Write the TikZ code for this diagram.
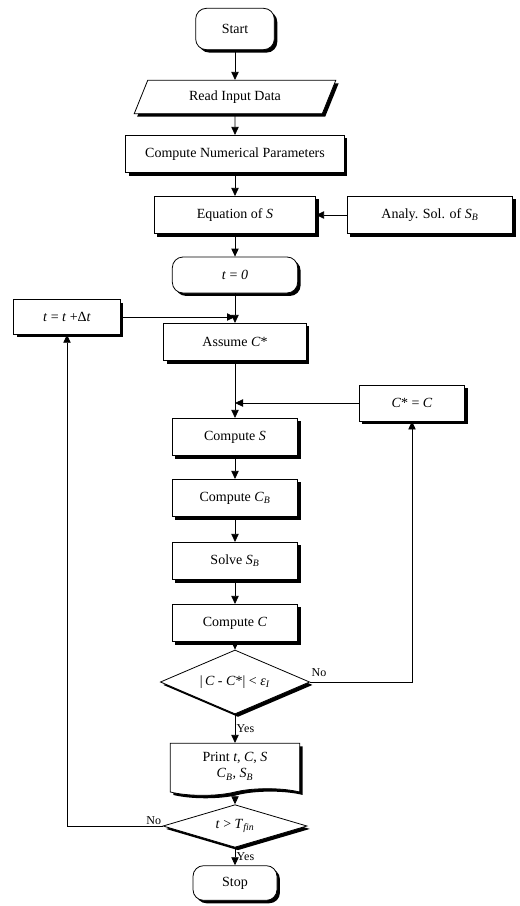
\documentclass[tikz,border=0pt]{standalone}
\usepackage{fontspec}
\setmainfont{Liberation Serif}
\usetikzlibrary{shapes, arrows, arrows.meta, shadows}

\begin{document}
\begin{tikzpicture}[x=0.75pt,y=0.75pt,yscale=-1,xscale=1,
    >={Triangle[length=6pt,width=5.5pt]},
    font=\fontsize{10.5}{12.5}\selectfont,
    box/.style={draw, line width=0.6pt, fill=white, minimum height=28pt, inner sep=2pt,
        general shadow={fill=black, shadow xshift=2.2pt, shadow yshift=-2.2pt}},
    term/.style={box, rounded corners=8pt},
    io/.style={box, trapezium, trapezium left angle=68, trapezium right angle=112, inner xsep=1pt},
    test/.style={box, diamond, inner sep=0pt, aspect=2.6},
    doc/.style={box, tape, tape bend top=none},
    lbl/.style={font=\fontsize{9}{11}\selectfont, inner sep=1pt},
    flow/.style={->, line width=0.6pt}]
    \useasboundingbox (0,0) rectangle (519,906);

    % Main column
    \node [term, minimum width=59pt, minimum height=31pt] (start) at (235,29) {Start};
    \node [io, minimum height=25pt] (read) at (235,97) {Read Input Data};
    \node [box, minimum width=164pt] (param) at (235,154) {Compute Numerical Parameters};
    \node [box, minimum width=121pt] (eqn) at (235,215) {Equation of \textit{S}};
    \node [box, minimum width=124pt] (analy) at (430,215) {Analy. Sol. of \textit{S}\textsubscript{\textit{B}}};
    \node [term, minimum width=94pt, minimum height=27pt] (tzero) at (235,275) {\textit{t} = \textit{0}};
    \node [box, minimum width=80pt, minimum height=26pt] (tplus) at (67,317) {\textit{t} = \textit{t} +Δ\textit{t}};
    \node [box, minimum width=107pt] (assume) at (235,342) {Assume \textit{C}*};
    \node [box, minimum width=79pt, minimum height=27pt] (cstar) at (412,403) {\textit{C}* = \textit{C}};
    \node [box, minimum width=94pt] (compS) at (235,437) {Compute \textit{S}};
    \node [box, minimum width=94pt] (compCB) at (235,498) {Compute \textit{C}\textsubscript{\textit{B}}};
    \node [box, minimum width=94pt] (solveSB) at (235,561) {Solve \textit{S}\textsubscript{\textit{B}}};
    \node [box, minimum width=94pt] (compC) at (235,623) {Compute \textit{C}};
    \node [test, minimum width=112pt, minimum height=48pt] (check1) at (235,682) {|\,\textit{C} - \textit{C}*| < \textit{ε}\textsubscript{\textit{I}}};
    \node [doc, minimum width=97pt, minimum height=39pt, align=center, inner sep=1pt] (print) at (235,766)
        {Print \textit{t}, \textit{C}, \textit{S}\\\textit{C}\textsubscript{\textit{B}}, \textit{S}\textsubscript{\textit{B}}};
    \node [test, minimum width=108pt, minimum height=32pt, aspect=3.2] (check2) at (235,826) {\textit{t} > \textit{T}\textsubscript{\textit{fin}}};
    \node [term, minimum width=63pt, minimum height=26pt] (stop) at (235,883) {Stop};

    % Connections
    \draw [flow] (start) -- (read);
    \draw [flow] (read) -- (param);
    \draw [flow] (param) -- (eqn);
    \draw [flow] (analy) -- (eqn);
    \draw [flow] (eqn) -- (tzero);
    \draw [flow] (tzero) -- (assume);
    \draw [flow] (tplus.east) -- (tplus.east -| assume.north);
    \draw [flow] (assume) -- (compS);
    \draw [flow] (cstar.west) -- (cstar.west -| compS.north);
    \draw [flow] (compS) -- (compCB);
    \draw [flow] (compCB) -- (solveSB);
    \draw [flow] (solveSB) -- (compC);
    \draw [flow] (compC) -- (check1);
    \draw [flow] (check1) -- node [lbl, right] (yes1) {Yes} (print);
    \draw [flow] (check1.east) -| (cstar.south);
    \draw [flow] (print) -- (check2);
    \draw [flow] (check2) -- node [lbl, right] (yes2) {Yes} (stop);
    \draw [flow] (check2.west) -| (tplus.south);

    % Labels
    \node [lbl, above right, yshift=3pt] (no1) at (check1.east) {No};
    \node [lbl, above left] (no2) at (check2.west) {No};
\end{tikzpicture}
\end{document}
